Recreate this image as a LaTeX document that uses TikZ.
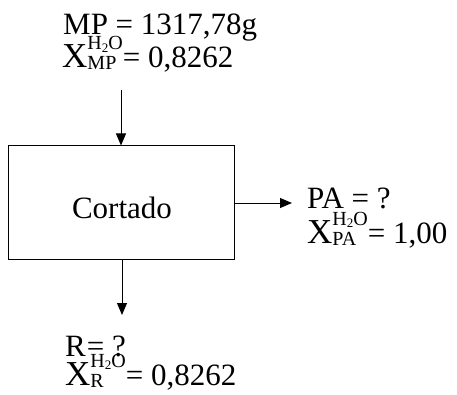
\documentclass[tikz,border=0pt]{standalone}
\usepackage{fontspec}
\setmainfont{Liberation Serif}
\usetikzlibrary{arrows.meta}
\newsavebox\xsupbox
\newsavebox\xsubbox
\newcommand{\Xvar}[1]{{\fontsize{35}{35}\selectfont X}%
  \sbox\xsupbox{\fontsize{20}{20}\selectfont H\raisebox{-2.5pt}{\fontsize{13}{13}\selectfont 2}O}%
  \sbox\xsubbox{\fontsize{20}{20}\selectfont #1}%
  \ifdim\wd\xsupbox>\wd\xsubbox
    \rlap{\raisebox{-2pt}{\usebox\xsubbox}}\raisebox{18pt}{\usebox\xsupbox}%
  \else
    \rlap{\raisebox{18pt}{\usebox\xsupbox}}\raisebox{-2pt}{\usebox\xsubbox}%
  \fi}
\tikzset{
  lbl/.style={anchor=base west, inner sep=0pt, font=\fontsize{31}{31}\selectfont},
  flow/.style={line width=1pt, -{Triangle[length=12pt,width=10pt]}},
  unit/.style={draw, line width=1pt, minimum width=226pt, minimum height=113pt, inner sep=0pt}
}
\begin{document}
\begin{tikzpicture}[x=1pt,y=1pt]
\useasboundingbox (0,0) rectangle (457,394);
\node[unit] (box) at (121,191.5) {};
\node[anchor=base, inner sep=0pt, font=\fontsize{31}{31}\selectfont] (cort) at (122,176) {Cortado};
\node[lbl] (mp1) at (63,359) {MP = 1317,78g};
\node[lbl] (mp2) at (62,326) {\Xvar{MP}= 0,8262};
\node[lbl] (pa1) at (307,186) {PA = ?};
\node[lbl] (pa2) at (307,151) {\Xvar{PA}= 1,00};
\node[lbl] (r1) at (65,38) {R{\kern1pt}= ?};
\node[lbl] (r2) at (65,9) {\Xvar{R}= 0,8262};
\coordinate (topin) at (121,304);
\coordinate (rightout) at (292,191);
\coordinate (botout) at (122,79);
\draw[flow] (topin) -- (topin |- box.north);
\draw[flow] (box.east |- rightout) -- (rightout);
\draw[flow] (box.south -| botout) -- (botout);
\end{tikzpicture}
\end{document}
